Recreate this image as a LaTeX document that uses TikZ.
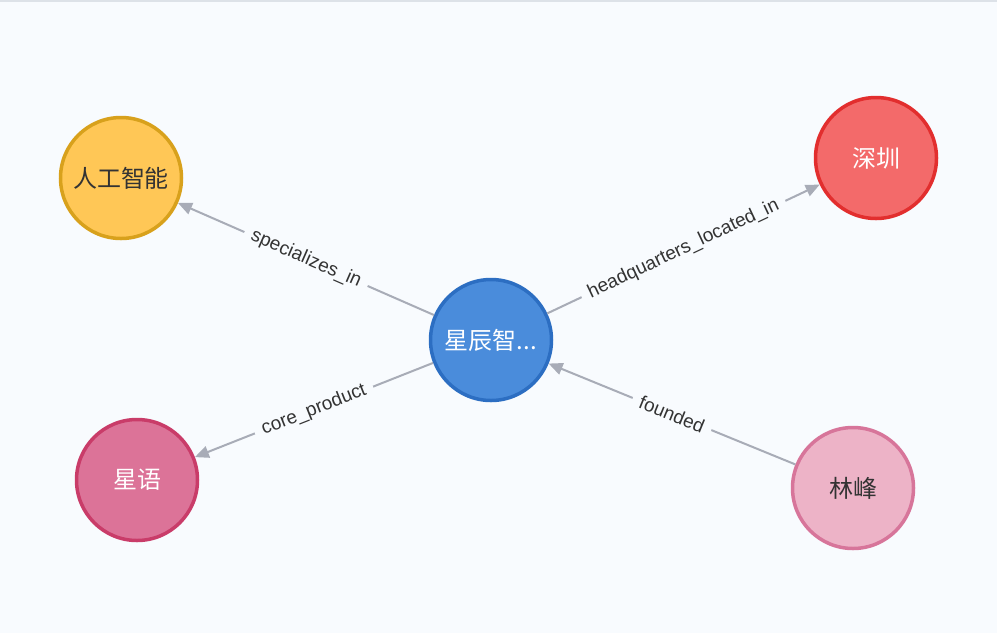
\documentclass[tikz,border=0pt]{standalone}
\usepackage{fontspec}
\setmainfont{Liberation Sans}
\newfontfamily\cjk{Noto Sans CJK SC}
\usetikzlibrary{arrows.meta}
\definecolor{bg}{HTML}{F8FBFE}
\definecolor{topline}{HTML}{DDE2E8}
\definecolor{edgegray}{HTML}{A8ACB7}
\definecolor{txtdark}{HTML}{333333}
\definecolor{cfill}{HTML}{4A8CDB}\definecolor{cdraw}{HTML}{2C6EC2}
\definecolor{afill}{HTML}{FFC756}\definecolor{adraw}{HTML}{D8A11C}
\definecolor{sfill}{HTML}{F36A6A}\definecolor{sdraw}{HTML}{E22E2E}
\definecolor{xfill}{HTML}{DC7398}\definecolor{xdraw}{HTML}{C93C69}
\definecolor{lfill}{HTML}{EDB3C7}\definecolor{ldraw}{HTML}{D7759A}
\begin{document}
\begin{tikzpicture}[x=1pt,y=-1pt,
  entity/.style={circle,minimum size=121pt,inner sep=0pt,line width=3.5pt,
    font=\cjk\fontsize{24}{28}\selectfont},
  rel/.style={draw=edgegray,line width=2pt,-{Triangle[length=14pt,width=12pt]}},
  rellabel/.style={midway,sloped,fill=bg,inner xsep=8pt,inner ysep=2pt,
    text=txtdark,font=\fontsize{19}{22}\selectfont}]
\fill[bg] (0,0) rectangle (997,633);
\useasboundingbox (0,0) rectangle (997,633);
\draw[topline,line width=1.5pt] (0,1) -- (997,1);
\node[entity,fill=cfill,draw=cdraw,text=white] (C) at (491,340) {星辰智...};
\node[entity,fill=afill,draw=adraw,text=txtdark] (A) at (121,178) {人工智能};
\node[entity,fill=sfill,draw=sdraw,text=white] (S) at (876,158) {深圳};
\node[entity,fill=xfill,draw=xdraw,text=white] (X) at (137,480) {星语};
\node[entity,fill=lfill,draw=ldraw,text=txtdark] (L) at (853,488) {林峰};
\draw[rel] (C) -- (A) node[rellabel] {specializes\_in};
\draw[rel] (C) -- (S) node[rellabel] {headquarters\_located\_in};
\draw[rel] (C) -- (X) node[rellabel] {core\_product};
\draw[rel] (L) -- (C) node[rellabel] {founded};
\end{tikzpicture}
\end{document}
